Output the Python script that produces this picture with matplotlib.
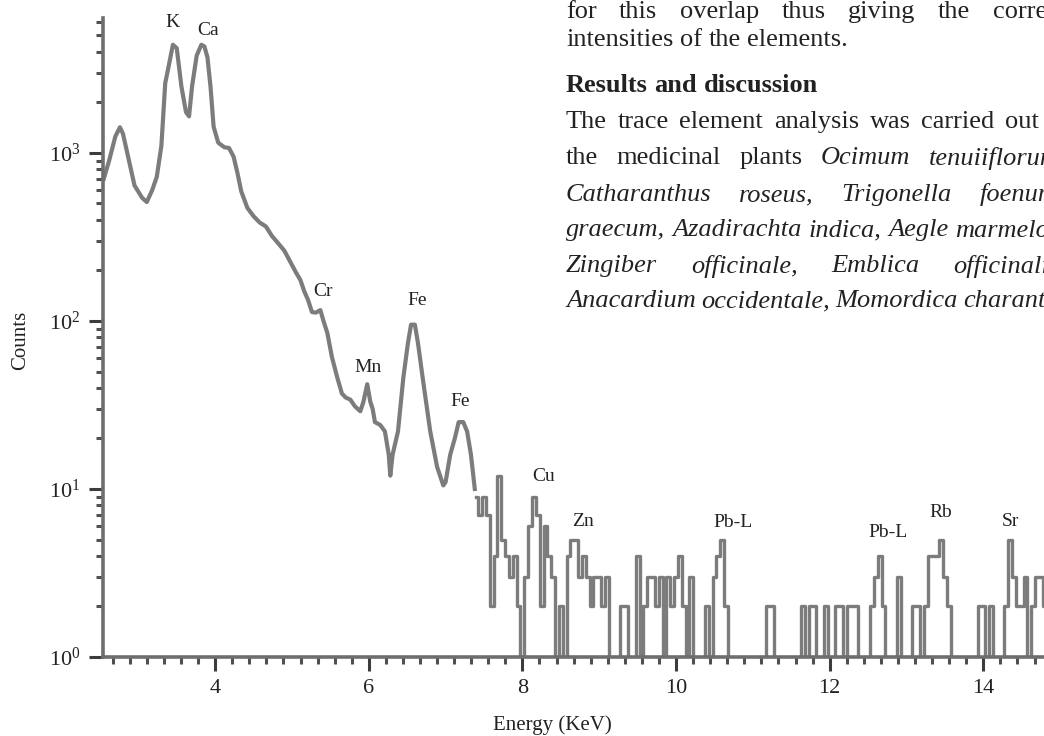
import matplotlib
matplotlib.use('Agg')
import matplotlib.pyplot as plt
from matplotlib.ticker import AutoMinorLocator, LogLocator, NullFormatter
import numpy as np

plt.rcParams['font.family'] = 'serif'
plt.rcParams['font.serif'] = ['Liberation Serif', 'DejaVu Serif']
plt.rcParams['mathtext.fontset'] = 'stix'

# smooth part of the spectrum (keV, counts)
energy_low = [2.55, 2.62, 2.70, 2.76, 2.80, 2.86, 2.95, 3.05, 3.11, 3.18, 3.24, 3.30,
              3.35, 3.39, 3.45, 3.50, 3.56, 3.62, 3.66, 3.70, 3.76, 3.82, 3.86, 3.90,
              3.94, 3.98, 4.04, 4.12, 4.18, 4.24, 4.29, 4.34, 4.42, 4.50, 4.58, 4.66,
              4.74, 4.82, 4.90, 4.98, 5.05, 5.11, 5.16, 5.21, 5.26, 5.31, 5.37, 5.41,
              5.46, 5.52, 5.59, 5.65, 5.70, 5.76, 5.82, 5.89, 5.93, 5.98, 6.02, 6.05,
              6.08, 6.15, 6.21, 6.26, 6.28, 6.31, 6.38, 6.45, 6.51, 6.55, 6.60, 6.64,
              6.71, 6.80, 6.89, 6.97, 7.00, 7.06, 7.12, 7.17, 7.23, 7.28, 7.33, 7.38]
counts_low = [700, 900, 1250, 1420, 1300, 980, 640, 540, 510, 600, 720, 1100,
              2600, 3200, 4400, 4200, 2500, 1750, 1650, 2500, 3800, 4400, 4300, 3700,
              2470, 1430, 1150, 1080, 1070, 950, 760, 590, 470, 420, 385, 365,
              320, 290, 262, 224, 195, 175, 150, 133, 113, 112, 116, 100,
              85, 61, 46, 37, 35, 34, 31, 29, 33, 42, 33, 30,
              25, 24, 22, 16, 12, 16, 22, 46, 74, 95, 95, 74,
              43, 22, 13.5, 10.5, 11, 16, 20, 25, 25, 22, 16, 10]

# noisy part: one count per 0.05 keV channel from 7.40 keV
channel_start = 7.40
channel_width = 0.05
counts_high = [9, 7, 9, 7, 2, 4, 12, 5, 4, 3, 4, 2,          # 7.40 - 7.95
               1, 3, 6, 9, 7, 2, 6, 4, 3, 0,                 # 8.00 - 8.45
               2, 0, 4, 5, 5, 3, 4, 3, 2, 3,                 # 8.50 - 8.95
               3, 2, 3, 0, 0, 1, 2, 2, 0, 0,                 # 9.00 - 9.45
               4, 0, 2, 3, 3, 2, 3, 1, 3, 2,                 # 9.50 - 9.95
               3, 4, 2, 0, 3, 0, 0, 0, 2, 0,                 # 10.00 - 10.45
               3, 4, 5, 2, 0, 0, 0, 0, 0, 0,                 # 10.50 - 10.95
               0, 0, 0, 0, 2, 2, 0, 0, 0, 0,                 # 11.00 - 11.45
               0, 0, 0, 2, 1, 2, 2, 0, 0, 2,                 # 11.50 - 11.95
               0, 0, 2, 2, 1, 2, 2, 2, 0, 0,                 # 12.00 - 12.45
               0, 2, 3, 4, 2, 0, 0, 0, 3, 0,                 # 12.50 - 12.95
               0, 0, 2, 2, 0, 2, 4, 4, 4, 5,                 # 13.00 - 13.45
               3, 2, 0, 0, 0, 0, 0, 0, 0, 2,                 # 13.50 - 13.95
               2, 1, 2, 0, 0, 0, 2, 5, 3, 2,                 # 14.00 - 14.45
               2, 3, 0, 2, 3, 3, 2]                          # 14.50 - 14.80

peak_names = ['K', 'Ca', 'Cr', 'Fe', 'Mn', 'Fe', 'Cu', 'Zn', 'Pb-L', 'Pb-L', 'Rb', 'Sr']
peak_energy = [3.44, 3.91, 5.41, 6.63, 5.99, 7.19, 8.27, 8.79, 10.74, 12.76, 13.44, 14.35]
peak_label_y = [5940, 5320, 149, 133, 52.5, 33, 11.8, 6.36, 6.3, 5.47, 7.2, 6.36]

# words with a leading _ are set in italics
column_lines = [
    "for this overlap thus giving the correct",
    "intensities of the elements.",
    "Results and discussion",
    "The trace element analysis was carried out on",
    "the medicinal plants _Ocimum _tenuiiflorum,",
    "_Catharanthus _roseus, _Trigonella _foenum-",
    "_graecum, _Azadirachta _indica, _Aegle _marmelos,",
    "_Zingiber _officinale, _Emblica _officinalis,",
    "_Anacardium _occidentale, _Momordica _charantia",
]
line_y = [12, 40, 85, 122, 158, 195, 230, 266, 301]
line_end = [1066, None, None, 1076, 1066, 1066, 1066, 1066, 1066]

W, H = 1044, 736
fig = plt.figure(figsize=(W / 100, H / 100), dpi=100)
ax = fig.add_axes([103 / W, 1 - 657 / H, 1 - 103 / W, (657 - 18) / H])

line_col = '#7c7c7c'
ax.plot(energy_low, counts_low, color=line_col, lw=3.0)
e_high = channel_start + channel_width * np.arange(len(counts_high))
ax.step(e_high, counts_high, where='mid', color=line_col, lw=2.4)

ax.set_yscale('log', nonpositive='clip')
ax.set_xlim(2.54, 14.79)
ax.set_ylim(1, 6350)

for s in ['top', 'right']:
    ax.spines[s].set_visible(False)
for s in ['left', 'bottom']:
    ax.spines[s].set_color('#6e6e6e')
    ax.spines[s].set_linewidth(2.6)

ax.set_xticks([4, 6, 8, 10, 12, 14])
ax.xaxis.set_minor_locator(AutoMinorLocator(9))
ax.yaxis.set_major_locator(LogLocator(base=10, numticks=10))
ax.yaxis.set_minor_locator(LogLocator(base=10, subs=np.arange(2, 10), numticks=20))
ax.yaxis.set_minor_formatter(NullFormatter())
ax.tick_params(which='major', direction='out', length=10, width=2.2, color='#3c3c3c',
               labelsize=16, labelcolor='#222222')
ax.tick_params(which='minor', direction='out', length=5, width=2.2, color='#505050')
ax.tick_params(axis='x', which='major', pad=6)
ax.tick_params(axis='y', which='major', pad=6)

ax.set_xlabel('Energy (KeV)', fontsize=15, color='#222222', va='center')
ax.xaxis.set_label_coords(0.478, -0.106)
ax.set_ylabel('Counts', fontsize=15, color='#222222', va='center')
ax.yaxis.set_label_coords(-0.088, 0.496)

for name, x, y in zip(peak_names, peak_energy, peak_label_y):
    ax.text(x, y, name, ha='center', va='center', fontsize=14, color='#222222')

# text column of the page, cut by the right edge
renderer = fig.canvas.get_renderer()
x_left = 566
for i, (line, y, x_right) in enumerate(zip(column_lines, line_y, line_end)):
    bold = 'bold' if i == 2 else 'normal'
    arts = []
    for w in line.split():
        style = 'italic' if w.startswith('_') else 'normal'
        t = fig.text(0, 1 - y / H, w.lstrip('_'), fontsize=19, fontstyle=style,
                     fontweight=bold, color='#222222', va='center', ha='left')
        arts.append(t)
    widths = [t.get_window_extent(renderer).width for t in arts]
    space = 19 * 100 / 72 * 0.25
    gap = space if x_right is None else (x_right - x_left - sum(widths)) / (len(arts) - 1)
    x = x_left
    for t, wd in zip(arts, widths):
        t.set_x(x / W)
        x += wd + gap

fig.savefig('out.png', dpi=100)
